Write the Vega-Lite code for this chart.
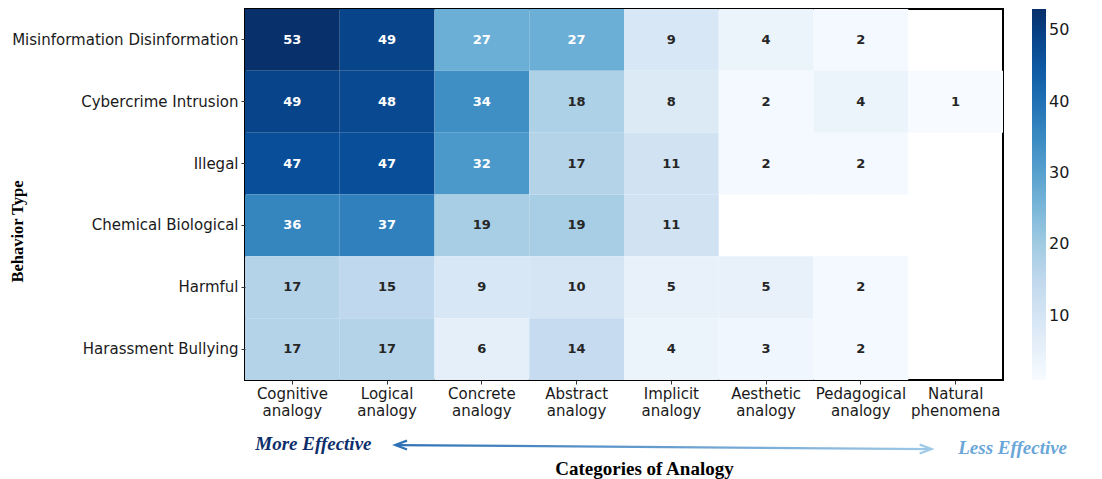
{
  "$schema": "https://vega.github.io/schema/vega-lite/v6.json",
  "autosize": {"type": "none"},
  "padding": {"left": 245, "top": 9, "right": 99, "bottom": 99},
  "width": 758,
  "height": 371,
  "background": "white",
  "config": {
    "view": {"stroke": "black", "strokeWidth": 2},
    "font": "DejaVu Sans"
  },
  "data": {
    "values": [
      {"behavior": "Misinformation Disinformation", "analogy": "Cognitive analogy", "count": 53},
      {"behavior": "Misinformation Disinformation", "analogy": "Logical analogy", "count": 49},
      {"behavior": "Misinformation Disinformation", "analogy": "Concrete analogy", "count": 27},
      {"behavior": "Misinformation Disinformation", "analogy": "Abstract analogy", "count": 27},
      {"behavior": "Misinformation Disinformation", "analogy": "Implicit analogy", "count": 9},
      {"behavior": "Misinformation Disinformation", "analogy": "Aesthetic analogy", "count": 4},
      {"behavior": "Misinformation Disinformation", "analogy": "Pedagogical analogy", "count": 2},
      {"behavior": "Cybercrime Intrusion", "analogy": "Cognitive analogy", "count": 49},
      {"behavior": "Cybercrime Intrusion", "analogy": "Logical analogy", "count": 48},
      {"behavior": "Cybercrime Intrusion", "analogy": "Concrete analogy", "count": 34},
      {"behavior": "Cybercrime Intrusion", "analogy": "Abstract analogy", "count": 18},
      {"behavior": "Cybercrime Intrusion", "analogy": "Implicit analogy", "count": 8},
      {"behavior": "Cybercrime Intrusion", "analogy": "Aesthetic analogy", "count": 2},
      {"behavior": "Cybercrime Intrusion", "analogy": "Pedagogical analogy", "count": 4},
      {"behavior": "Cybercrime Intrusion", "analogy": "Natural phenomena", "count": 1},
      {"behavior": "Illegal", "analogy": "Cognitive analogy", "count": 47},
      {"behavior": "Illegal", "analogy": "Logical analogy", "count": 47},
      {"behavior": "Illegal", "analogy": "Concrete analogy", "count": 32},
      {"behavior": "Illegal", "analogy": "Abstract analogy", "count": 17},
      {"behavior": "Illegal", "analogy": "Implicit analogy", "count": 11},
      {"behavior": "Illegal", "analogy": "Aesthetic analogy", "count": 2},
      {"behavior": "Illegal", "analogy": "Pedagogical analogy", "count": 2},
      {"behavior": "Chemical Biological", "analogy": "Cognitive analogy", "count": 36},
      {"behavior": "Chemical Biological", "analogy": "Logical analogy", "count": 37},
      {"behavior": "Chemical Biological", "analogy": "Concrete analogy", "count": 19},
      {"behavior": "Chemical Biological", "analogy": "Abstract analogy", "count": 19},
      {"behavior": "Chemical Biological", "analogy": "Implicit analogy", "count": 11},
      {"behavior": "Harmful", "analogy": "Cognitive analogy", "count": 17},
      {"behavior": "Harmful", "analogy": "Logical analogy", "count": 15},
      {"behavior": "Harmful", "analogy": "Concrete analogy", "count": 9},
      {"behavior": "Harmful", "analogy": "Abstract analogy", "count": 10},
      {"behavior": "Harmful", "analogy": "Implicit analogy", "count": 5},
      {"behavior": "Harmful", "analogy": "Aesthetic analogy", "count": 5},
      {"behavior": "Harmful", "analogy": "Pedagogical analogy", "count": 2},
      {"behavior": "Harassment Bullying", "analogy": "Cognitive analogy", "count": 17},
      {"behavior": "Harassment Bullying", "analogy": "Logical analogy", "count": 17},
      {"behavior": "Harassment Bullying", "analogy": "Concrete analogy", "count": 6},
      {"behavior": "Harassment Bullying", "analogy": "Abstract analogy", "count": 14},
      {"behavior": "Harassment Bullying", "analogy": "Implicit analogy", "count": 4},
      {"behavior": "Harassment Bullying", "analogy": "Aesthetic analogy", "count": 3},
      {"behavior": "Harassment Bullying", "analogy": "Pedagogical analogy", "count": 2}
    ]
  },
  "encoding": {
    "x": {
      "field": "analogy", "type": "nominal",
      "sort": ["Cognitive analogy", "Logical analogy", "Concrete analogy", "Abstract analogy", "Implicit analogy", "Aesthetic analogy", "Pedagogical analogy", "Natural phenomena"],
      "scale": {"domain": ["Cognitive analogy", "Logical analogy", "Concrete analogy", "Abstract analogy", "Implicit analogy", "Aesthetic analogy", "Pedagogical analogy", "Natural phenomena"], "paddingInner": 0, "paddingOuter": 0},
      "axis": {
        "title": "Categories of Analogy",
        "titleFont": "Liberation Serif", "titleFontWeight": "bold", "titleFontSize": 19, "titleColor": "#000000",
        "titleX": 399, "titleY": 88, "titleBaseline": "middle",
        "labelAngle": 0, "labelFontSize": 15, "labelColor": "#1a1a1a",
        "labelExpr": "split(datum.label, ' ')", "labelLineHeight": 17,
        "labelPadding": 2, "tickSize": 4, "tickColor": "#333333", "domain": false, "labelLimit": 0
      }
    },
    "y": {
      "field": "behavior", "type": "nominal",
      "scale": {"domain": ["Misinformation Disinformation", "Cybercrime Intrusion", "Illegal", "Chemical Biological", "Harmful", "Harassment Bullying"], "paddingInner": 0, "paddingOuter": 0},
      "axis": {
        "title": "Behavior Type",
        "titleFont": "Liberation Serif", "titleFontWeight": "bold", "titleFontSize": 16.5, "titleColor": "#000000",
        "titleX": -228, "titleY": 222, "titleAngle": -90, "titleBaseline": "middle", "titleAlign": "center",
        "labelFontSize": 15, "labelColor": "#1a1a1a", "labelPadding": 3, "tickSize": 4, "tickColor": "#333333", "domain": false, "labelLimit": 0
      }
    }
  },
  "layer": [
    {
      "mark": {"type": "rect"},
      "encoding": {
        "color": {
          "field": "count", "type": "quantitative",
          "scale": {"domain": [1, 53], "range": ["#f7fbff", "#deebf7", "#c6dbef", "#9ecae1", "#6baed6", "#4292c6", "#2171b5", "#08519c", "#08306b"], "interpolate": "rgb", "nice": false},
          "legend": {
            "orient": "right", "offset": 29, "title": null, "direction": "vertical",
            "gradientLength": 371, "gradientThickness": 14, "gradientStrokeWidth": 0,
            "values": [10, 20, 30, 40, 50], "labelFontSize": 16, "labelColor": "#1a1a1a", "labelFont": "DejaVu Sans", "labelOffset": 3
          }
        }
      }
    },
    {
      "mark": {"type": "text", "fontSize": 13, "fontWeight": "bold", "font": "DejaVu Sans"},
      "encoding": {
        "text": {"field": "count", "type": "quantitative"},
        "color": {"condition": {"test": "datum.count >= 25", "value": "#ffffff"}, "value": "#262626"}
      }
    },
    {
      "data": {"values": [{"label": "More Effective"}]},
      "mark": {"type": "text", "font": "Liberation Serif", "fontWeight": "bold", "fontStyle": "italic", "fontSize": 19, "color": "#0d2f6b", "dx": 21, "dy": 95, "baseline": "middle"},
      "encoding": {
        "x": {"datum": "Cognitive analogy"},
        "y": {"datum": "Harassment Bullying"},
        "text": {"field": "label"}
      }
    },
    {
      "data": {"values": [{"label": "Less Effective"}]},
      "mark": {"type": "text", "font": "Liberation Serif", "fontWeight": "bold", "fontStyle": "italic", "fontSize": 19, "color": "#6aa6d8", "dx": 57, "dy": 99, "baseline": "middle"},
      "encoding": {
        "x": {"datum": "Natural phenomena"},
        "y": {"datum": "Harassment Bullying"},
        "text": {"field": "label"}
      }
    },
    {
      "data": {"values": [{"label": "arrow"}]},
      "mark": {"type": "rule", "strokeWidth": 2.2, "xOffset": 9, "x2Offset": -25, "yOffset": 96, "y2Offset": 100,
        "stroke": {"gradient": "linear", "x1": 0, "y1": 0, "x2": 1, "y2": 0, "stops": [{"offset": 0, "color": "#2f72b5"}, {"offset": 1, "color": "#9ec9e7"}]}},
      "encoding": {
        "x": {"datum": "Logical analogy"},
        "x2": {"datum": "Natural phenomena"},
        "y": {"datum": "Harassment Bullying"},
        "y2": {"datum": "Harassment Bullying"}
      }
    },
    {
      "data": {"values": [{"label": "left head"}]},
      "mark": {"type": "point", "shape": "M1,-0.75 L-1,0 L1,0.75", "filled": false, "size": 140, "strokeWidth": 2.2, "color": "#2f72b5", "opacity": 1, "xOffset": 14, "yOffset": 96},
      "encoding": {
        "x": {"datum": "Logical analogy"},
        "y": {"datum": "Harassment Bullying"}
      }
    },
    {
      "data": {"values": [{"label": "right head"}]},
      "mark": {"type": "point", "shape": "M-1,-0.75 L1,0 L-1,0.75", "filled": false, "size": 140, "strokeWidth": 2.2, "color": "#9ec9e7", "opacity": 1, "xOffset": -30, "yOffset": 100},
      "encoding": {
        "x": {"datum": "Natural phenomena"},
        "y": {"datum": "Harassment Bullying"}
      }
    }
  ]
}
